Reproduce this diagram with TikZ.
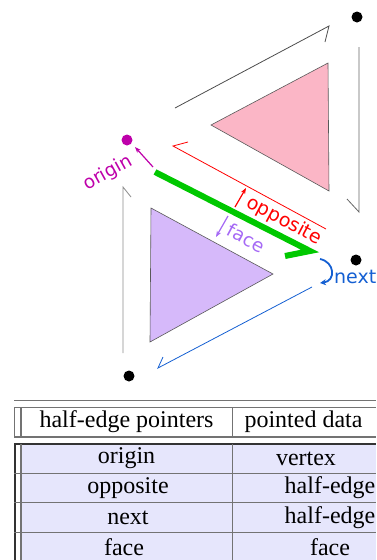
\documentclass[tikz,border=0pt]{standalone}
\usepackage{fontspec}
\setmainfont{Liberation Serif}
\newfontfamily\labfont{DejaVu Sans}
\usetikzlibrary{arrows.meta}
\definecolor{mag}{RGB}{190,0,170}
\definecolor{oppred}{RGB}{255,0,0}
\definecolor{facepur}{RGB}{165,105,245}
\definecolor{nextblue}{RGB}{20,95,210}
\definecolor{edgegreen}{RGB}{0,200,0}
\definecolor{pinkfill}{RGB}{251,182,198}
\definecolor{lavfill}{RGB}{214,185,250}
\definecolor{rowfill}{RGB}{230,230,252}
\begin{document}
\begin{tikzpicture}[x=1pt,y=-1pt,
  vert/.style={circle,fill=black,inner sep=0pt,minimum size=11pt},
  he/.style={line width=0.8pt,line join=miter},
  lab/.style={font=\labfont\fontsize{18.5}{20}\selectfont,inner sep=0pt},
  tri/.style={draw=black!65,line width=0.6pt},
  smallarrow/.style={line width=1.2pt,-{Stealth[length=6pt,width=4.5pt]}},
  tline/.style={draw=black!55,line width=1.1pt},
  tdark/.style={draw=black!80,line width=1.1pt},
  ttext/.style={font=\fontsize{24}{27}\selectfont,inner sep=0pt}
]
\useasboundingbox (0,0) rectangle (376,560);

% vertices
\node[vert] (vtop) at (357,17) {};
\node[vert,fill=mag] (vorig) at (127,140) {};
\node[vert] (vright) at (356,260) {};
\node[vert] (vbot) at (129,376) {};

% faces
\filldraw[tri,fill=pinkfill] (211,125) -- (328,63) -- (329,191) -- cycle;
\filldraw[tri,fill=lavfill] (151,208) -- (273,274) -- (150,342) -- cycle;

% half-edge coordinates
\coordinate (a1) at (175,108); \coordinate (a2) at (329,26); \coordinate (a3) at (325,42);
\coordinate (b1) at (359,47);  \coordinate (b2) at (359,212); \coordinate (b3) at (347,199);
\coordinate (r1) at (326,229); \coordinate (r2) at (173,146); \coordinate (r3) at (188,142);
\coordinate (g1) at (155,172); \coordinate (g2) at (310,251); \coordinate (g3) at (285,256);
\coordinate (n1) at (312,287); \coordinate (n2) at (158,368); \coordinate (n3) at (163,357);
\coordinate (l1) at (123,353); \coordinate (l2) at (123,187); \coordinate (l3) at (131,197);

\draw[he,draw=black!70] (a1) -- (a2) -- (a3);
\draw[he,draw=black!60] (b1) -- (b2) -- (b3);
\draw[he,draw=oppred] (r1) -- (r2) -- (r3);
\draw[line width=6pt,line join=miter,draw=edgegreen] (g1) -- (g2) -- (g3);
\draw[he,draw=nextblue] (n1) -- (n2) -- (n3);
\draw[he,draw=black!45] (l1) -- (l2) -- (l3);

% pointer arrows
\coordinate (mo1) at (153,167); \coordinate (mo2) at (135,147);
\draw[smallarrow,mag] (mo1) -- (mo2);
\coordinate (ro1) at (235,207); \coordinate (ro2) at (246,188);
\draw[smallarrow,oppred] (ro1) -- (ro2);
\coordinate (fo1) at (228,216); \coordinate (fo2) at (216,237);
\draw[smallarrow,facepur] (fo1) -- (fo2);
\coordinate (nx1) at (320,259); \coordinate (nx2) at (320,283);
\draw[line width=1.8pt,nextblue,-{Stealth[length=6pt,width=6pt]}] (nx1) .. controls (335,262) and (336,281) .. (nx2);

% labels
\node[lab,text=mag,rotate=29] (lorig) at (108,173) {origin};
\node[lab,text=oppred,rotate=-28,font=\labfont\fontsize{19}{20}\selectfont] (lopp) at (284,221) {opposite};
\node[lab,text=facepur,rotate=-28] (lface) at (246,238) {face};
\node[lab,text=nextblue,anchor=west,font=\labfont\fontsize{19}{20}\selectfont] (lnext) at (334,277) {next};

% table
\fill[rowfill] (21,444) rectangle (376,560);
\draw[tline] (14,400.7) -- (376,400.7);
\draw[tline] (14,407.5) -- (376,407.5);
\draw[tline] (14,437) -- (376,437);
\draw[tline] (14.7,407.5) -- (14.7,437);
\draw[tline] (21,407.5) -- (21,437);
\draw[tline] (232.3,407.5) -- (232.3,437);
\draw[tdark] (14,444) -- (376,444);
\draw[tdark] (15,444) -- (15,560);
\draw[tline] (21,444) -- (21,560);
\draw[tline] (232.3,444) -- (232.3,560);
\foreach \yy in {473.3,502.7,532.3}{
  \draw[tline] (14,\yy) -- (376,\yy);
}
\node[ttext] (h1) at (126.5,422) {half-edge pointers};
\node[ttext] (h2) at (303.5,422) {pointed data};
\node[ttext] (c11) at (126.5,458.5) {origin};
\node[ttext] (c12) at (306,458.5) {vertex};
\node[ttext] (c21) at (128,488) {opposite};
\node[ttext] (c22) at (330,488) {half-edge};
\node[ttext] (c31) at (128,517.5) {next};
\node[ttext] (c32) at (330,517.5) {half-edge};
\node[ttext] (c41) at (124,547) {face};
\node[ttext] (c42) at (330,547) {face};
\end{tikzpicture}
\end{document}
